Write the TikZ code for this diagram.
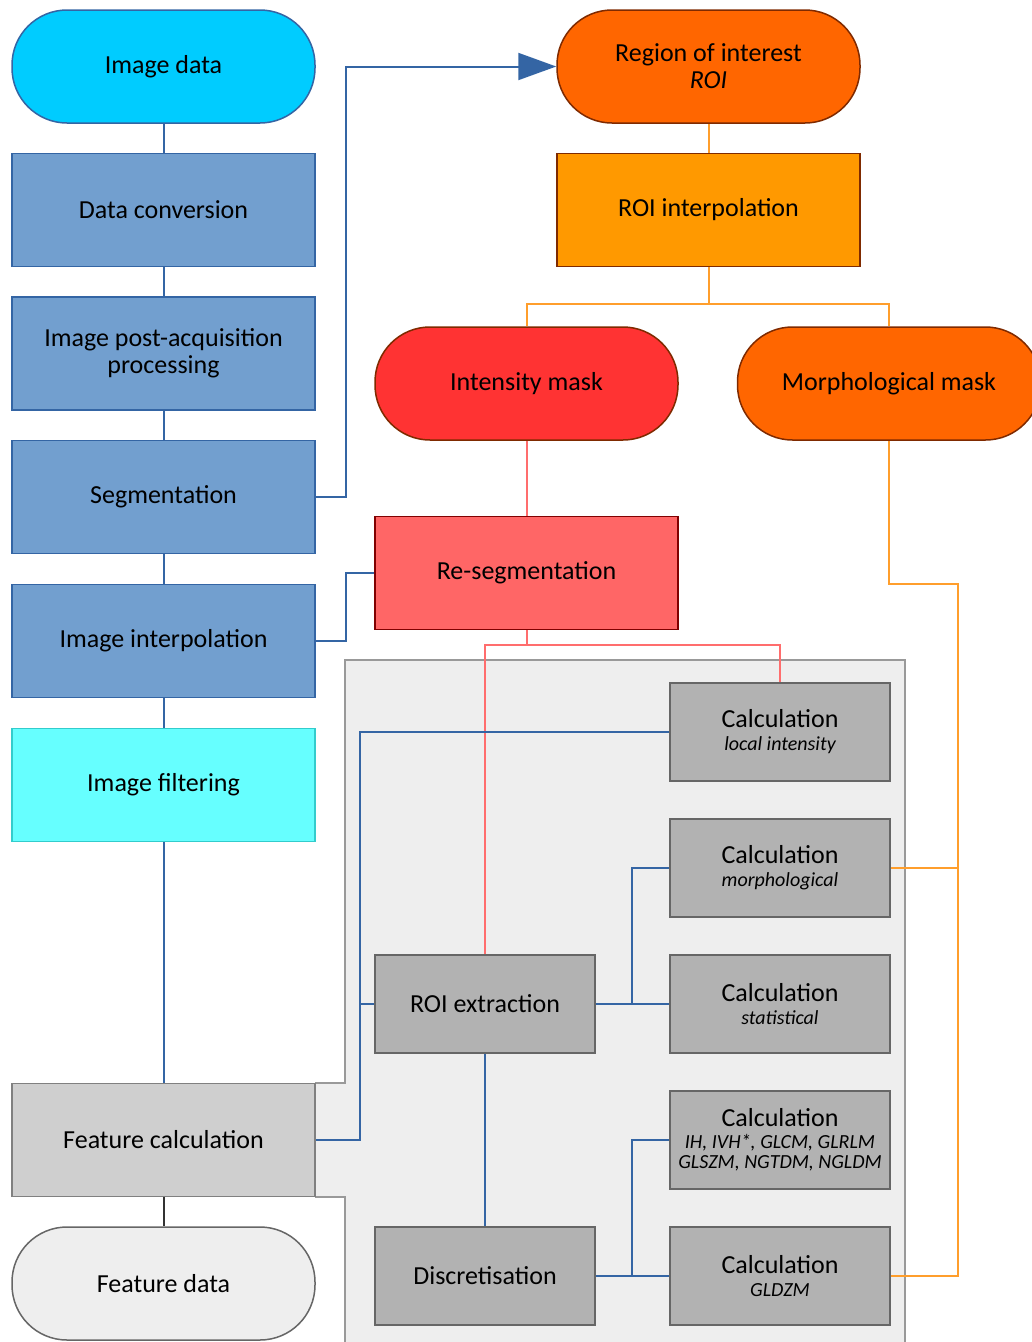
\documentclass[tikz,border=0pt]{standalone}
\usepackage{fontspec}
\setmainfont{Carlito}
\usepackage{xcolor}
\usetikzlibrary{arrows.meta, positioning}

\definecolor{lineblue}{HTML}{3465A4}
\definecolor{boxblue}{HTML}{729FCF}
\definecolor{skyfill}{HTML}{00CCFF}
\definecolor{cyanfill}{HTML}{66FFFF}
\definecolor{cyanedge}{HTML}{33CCCC}
\definecolor{roifill}{HTML}{FF6600}
\definecolor{ambfill}{HTML}{FF9900}
\definecolor{redfill}{HTML}{FF3333}
\definecolor{pinkfill}{HTML}{FF6666}
\definecolor{brownedge}{HTML}{7F2A00}
\definecolor{darkred}{HTML}{800000}
\definecolor{orangeline}{HTML}{FF9E2C}
\definecolor{pinkline}{HTML}{FF6D6D}
\definecolor{bggray}{HTML}{EEEEEE}
\definecolor{bgedge}{HTML}{999999}
\definecolor{calcgray}{HTML}{B2B2B2}
\definecolor{calcedge}{HTML}{666666}
\definecolor{featgray}{HTML}{CFCFCF}

\newcommand{\subtxt}[1]{{\fontsize{20}{20}\selectfont\itshape #1}}

\begin{document}
\begin{tikzpicture}[x=1pt, y=-1pt,
    every node/.style={font=\fontsize{26}{27}\selectfont, align=center, inner sep=0pt},
    box/.style={draw, line width=1.5pt, minimum width=303pt, minimum height=113pt},
    stadium/.style={box, rounded corners=55pt},
    bluebox/.style={box, draw=lineblue, fill=boxblue},
    calcbox/.style={draw=calcedge, fill=calcgray, line width=1.5pt, minimum width=220pt, minimum height=98pt},
    blueline/.style={draw=lineblue, line width=2pt},
    ambline/.style={draw=orangeline, line width=2pt},
    pinkconn/.style={draw=pinkline, line width=2pt}]
    \useasboundingbox (0,0) rectangle (1032,1342);

    % background of the feature calculation
    \fill[bggray] (315,1083) -- (345,1083) -- (345,660) -- (905,660) -- (905,1350) -- (345,1350) -- (345,1197) -- (315,1197) -- cycle;
    \draw[bgedge, line width=1.2pt] (315,1083) -- (345,1083) -- (345,660) -- (905,660) -- (905,1350);
    \draw[bgedge, line width=1.2pt] (315,1197) -- (345,1197) -- (345,1350);

    % left column
    \node[stadium, draw=lineblue, fill=skyfill] (imgdata) at (163.5,66.5) {Image data};
    \foreach \n/\y/\t in {conv/210/Data conversion, post/353.5/{Image post-acquisition\\processing}, seg/497/Segmentation, interp/641/Image interpolation} {
        \node[bluebox] (\n) at (163.5,\y) {\t};
    }
    \node[box, draw=cyanedge, fill=cyanfill] (filt) at (163.5,785) {Image filtering};
    \node[box, draw=gray, fill=featgray] (featcalc) at (163.5,1140) {Feature calculation};
    \node[stadium, draw=calcedge, fill=bggray] (featdata) at (163.5,1283.5) {Feature data};

    % mask branch
    \node[stadium, draw=brownedge, fill=roifill] (roi) at (708.5,66.5) {Region of interest\\\textit{ROI}};
    \node[box, draw=brownedge, fill=ambfill] (roiint) at (708.5,210) {ROI interpolation};
    \node[stadium, draw=brownedge, fill=redfill] (intmask) at (526.5,383.5) {Intensity mask};
    \node[stadium, draw=brownedge, fill=roifill] (morphmask) at (889,383.5) {Morphological mask};
    \node[box, draw=darkred, fill=pinkfill] (reseg) at (526.5,573) {Re-segmentation};

    % calculation boxes
    \node[calcbox] (roiext) at (485,1004) {ROI extraction};
    \node[calcbox] (disc) at (485,1276) {Discretisation};
    \node[calcbox] (calclocal) at (780,732) {Calculation\\[-4pt]\subtxt{local intensity}};
    \node[calcbox] (calcmorph) at (780,868) {Calculation\\[-4pt]\subtxt{morphological}};
    \node[calcbox] (calcstat) at (780,1004) {Calculation\\[-4pt]\subtxt{statistical}};
    \node[calcbox] (calcih) at (780,1140) {Calculation\\[-5pt]\subtxt{IH, IVH*, GLCM, GLRLM}\\[-7pt]\subtxt{GLSZM, NGTDM, NGLDM}};
    \node[calcbox] (calcgldzm) at (780,1276) {Calculation\\[-4pt]\subtxt{GLDZM}};

    \coordinate (lbus) at (360,732);
    \coordinate (rbus) at (632,1004);
    \coordinate (dbus) at (632,1276);
    \coordinate (obus) at (958,584);

    % connectors
    \foreach \a/\b in {imgdata/conv, conv/post, post/seg, seg/interp, interp/filt, filt/featcalc} {
        \draw[blueline] (\a) -- (\b);
    }
    \draw[line width=2pt, black!80] (featcalc) -- (featdata);
    \draw[blueline, -{Triangle[length=38pt,width=27pt]}] (seg.east) -- ++(30,0) |- (roi.west);
    \draw[blueline] (interp.east) -- ++(30,0) |- (reseg.west);

    \draw[ambline] (roi) -- (roiint);
    \draw[ambline] (roiint.south) -- ++(0,37) -| (intmask.north);
    \draw[ambline] (roiint.south) -- ++(0,37) -| (morphmask.north);
    \draw[ambline] (morphmask.south) |- (obus) |- (calcgldzm.east);
    \draw[ambline] (calcmorph.east) -- (calcmorph.east -| obus);

    \draw[pinkconn] (intmask) -- (reseg);
    \draw[pinkconn] (reseg.south) -- ++(0,15) -| (roiext.north);
    \draw[pinkconn] (reseg.south) -- ++(0,15) -| (calclocal.north);

    \draw[blueline] (featcalc.east) -| (lbus) -- (calclocal.west);
    \draw[blueline] (roiext.west) -- (roiext.west -| lbus);
    \draw[blueline] (roiext.east) -- (calcstat.west);
    \draw[blueline] (rbus) |- (calcmorph.west);
    \draw[blueline] (roiext) -- (disc);
    \draw[blueline] (disc.east) -- (calcgldzm.west);
    \draw[blueline] (dbus) |- (calcih.west);
\end{tikzpicture}
\end{document}
